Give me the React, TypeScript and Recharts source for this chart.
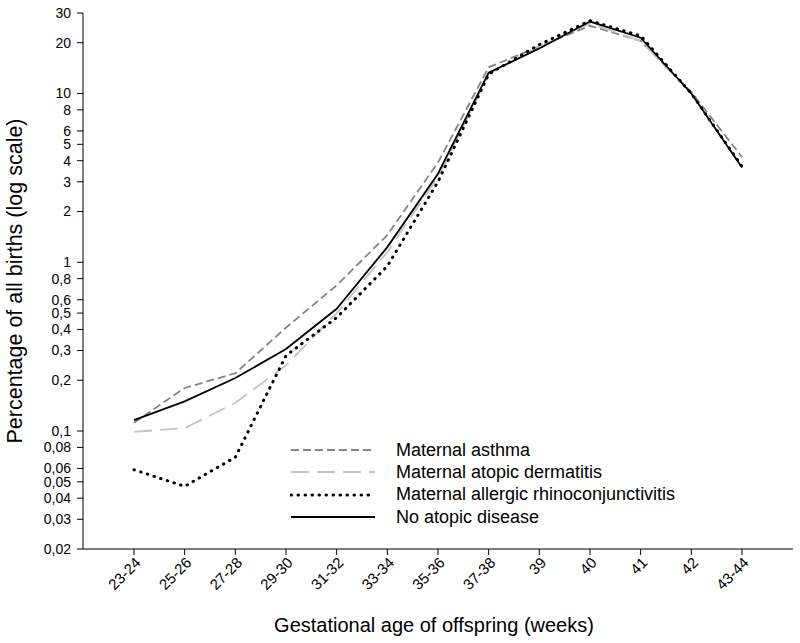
import React from "react";
import { LineChart, Line, XAxis, YAxis } from "recharts";

const ages = ["23-24", "25-26", "27-28", "29-30", "31-32", "33-34", "35-36", "37-38", "39", "40", "41", "42", "43-44"];
const asthma = [0.112, 0.18, 0.22, 0.41, 0.73, 1.45, 3.9, 14.3, 19, 25.2, 20.5, 10.2, 4.2];
const dermatitis = [0.099, 0.104, 0.147, 0.245, 0.5, 1.15, 3.2, 13, 19, 26, 20.5, 10, 3.7];
const rhino = [0.059, 0.047, 0.07, 0.28, 0.47, 0.95, 3.0, 13, 19.5, 27, 22, 10, 3.7];
const noAtopic = [0.116, 0.15, 0.206, 0.306, 0.53, 1.23, 3.35, 13.3, 18.5, 26.7, 21.4, 10, 3.65];
const yTicks = [0.02, 0.03, 0.04, 0.05, 0.06, 0.08, 0.1, 0.2, 0.3, 0.4, 0.5, 0.6, 0.8, 1, 2, 3, 4, 5, 6, 8, 10, 20, 30];

const data = ages.map((age, i) => ({
  age,
  asthma: asthma[i],
  dermatitis: dermatitis[i],
  rhino: rhino[i],
  none: noAtopic[i],
}));

const FONT = "'Liberation Sans', Arial, sans-serif";

const series = [
  { key: "asthma", name: "Maternal asthma", color: "#858585", width: 1.8, dash: "8 4", cap: "butt" },
  { key: "dermatitis", name: "Maternal atopic dermatitis", color: "#c4c4c4", width: 1.8, dash: "18 8", cap: "butt" },
  { key: "rhino", name: "Maternal allergic rhinoconjunctivitis", color: "#000000", width: 3, dash: "0.5 6.5", cap: "round" },
  { key: "none", name: "No atopic disease", color: "#000000", width: 1.8, dash: undefined, cap: "butt" },
];

const AgeTick = (props: any) => {
  const { x, y, payload } = props;
  return (
    <g transform={`translate(${x + 4},${y + 3})`}>
      <text textAnchor="end" dy="0.35em" transform="rotate(-45)" fontSize={15} fill="#000" fontFamily={FONT}>
        {payload.value}
      </text>
    </g>
  );
};

const YTitle = (props: any) => {
  const { viewBox } = props;
  const cx = viewBox.x + 16;
  const cy = viewBox.y + viewBox.height / 2;
  return (
    <text x={cx} y={cy} transform={`rotate(-90,${cx},${cy})`} textAnchor="middle" dominantBaseline="middle" fontSize={21.5} fontFamily={FONT} fill="#000">
      Percentage of all births (log scale)
    </text>
  );
};

const XTitle = (props: any) => {
  const { viewBox } = props;
  return (
    <text x={viewBox.x + viewBox.width / 2 - 4} y={viewBox.y + 83} textAnchor="middle" fontSize={20} fontFamily={FONT} fill="#000">
      Gestational age of offspring (weeks)
    </text>
  );
};

const LegendBox = () => (
  <div style={{ position: "absolute", left: 290, top: 439, fontFamily: FONT, fontSize: 18, color: "#000" }}>
    {series.map((s) => (
      <div key={s.key} style={{ display: "flex", alignItems: "center", height: 22.3 }}>
        <svg width={86} height={10}>
          <line x1={1} y1={5} x2={85} y2={5} stroke={s.color} strokeWidth={s.width} strokeDasharray={s.dash} strokeLinecap={s.cap as any} />
        </svg>
        <span style={{ marginLeft: 20 }}>{s.name}</span>
      </div>
    ))}
  </div>
);

export default function App() {
  return (
    <div style={{ position: "absolute", left: 0, top: 0, width: 800, height: 643, background: "#fff" }}>
      <LineChart width={800} height={643} data={data} margin={{ top: 13, right: 7, bottom: 0, left: 0 }}>
        <XAxis
          dataKey="age"
          height={94}
          padding={{ left: 51, right: 51 }}
          tick={<AgeTick />}
          tickSize={6}
          stroke="#000"
          label={<XTitle />}
          interval={0}
        />
        <YAxis
          scale="log"
          domain={[0.02, 30]}
          ticks={yTicks}
          interval={0}
          width={83}
          tickSize={6}
          tickMargin={6}
          stroke="#000"
          tick={{ fill: "#000", fontSize: 14, fontFamily: FONT }}
          tickFormatter={(v: number) => String(v).replace(".", ",")}
          label={<YTitle />}
        />
        {series.map((s) => (
          <Line
            key={s.key}
            dataKey={s.key}
            name={s.name}
            type="linear"
            stroke={s.color}
            strokeWidth={s.width}
            strokeDasharray={s.dash}
            strokeLinecap={s.cap as any}
            dot={false}
            activeDot={false}
            isAnimationActive={false}
          />
        ))}
      </LineChart>
      <LegendBox />
    </div>
  );
}
